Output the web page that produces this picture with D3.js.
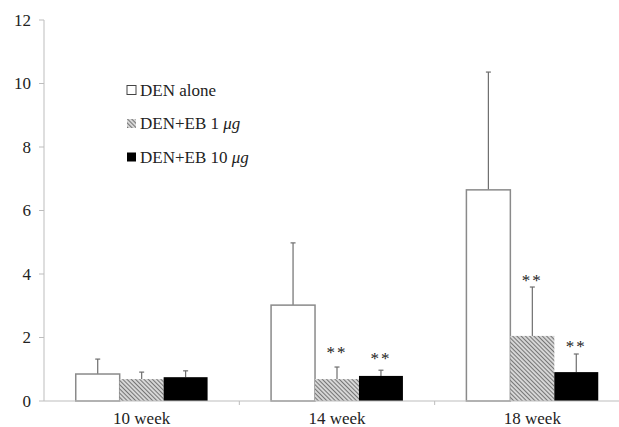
<!DOCTYPE html>
<html>
<head>
<meta charset="utf-8">
<script src="https://cdn.jsdelivr.net/npm/d3@7"></script>
<style>
  body { margin: 0; background: #fff; }
  svg { display: block; }
</style>
</head>
<body>
<svg id="chart" width="619" height="427"></svg>
<script>
// data
const weeks = ['10 week', '14 week', '18 week'];
const groups = ['DEN alone', 'DEN+EB 1', 'DEN+EB 10'];
const means = [
    [0.85, 0.69, 0.75],
    [3.02, 0.69, 0.79],
    [6.65, 2.05, 0.91],
];
const errors = [
    [0.47, 0.22, 0.20],
    [1.96, 0.38, 0.18],
    [3.71, 1.54, 0.57],
];
// significance marks: [week index, group index, label height in chart units]
const stars = [
    [1, 1, 1.64],
    [1, 2, 1.45],
    [2, 1, 3.90],
    [2, 2, 1.83],
];
const yTicks = [0, 2, 4, 6, 8, 10, 12];

const serif = "'Liberation Serif', 'Times New Roman', serif";
const svg = d3.select('#chart');
const axisColor = '#bdbdbd';

const y = d3.scaleLinear().domain([0, 12]).range([401, 20]);
const x = d3.scaleBand().domain(weeks).range([44, 630]);
const groupWidth = x.bandwidth() * 0.675;
const xSub = d3.scaleBand().domain(groups)
    .range([(x.bandwidth() - groupWidth) / 2, (x.bandwidth() + groupWidth) / 2]);

// hatch pattern for the 1 ug group
const defs = svg.append('defs');
const pat = defs.append('pattern')
    .attr('id', 'hatch')
    .attr('patternUnits', 'userSpaceOnUse')
    .attr('width', 3).attr('height', 3)
    .attr('patternTransform', 'rotate(-45)');
pat.append('rect').attr('width', 3).attr('height', 3).attr('fill', '#d6d6d6');
pat.append('line')
    .attr('x1', 0).attr('y1', 0).attr('x2', 0).attr('y2', 3)
    .attr('stroke', '#555').attr('stroke-width', 1.5);

const fills = ['#ffffff', 'url(#hatch)', '#000000'];
const strokes = ['#8a8a8a', 'none', 'none'];

function label(sel, size) {
    return sel.style('font-family', serif)
        .style('font-size', size + 'px')
        .style('fill', '#222');
}

// y axis
svg.append('line')
    .attr('x1', 44).attr('x2', 44)
    .attr('y1', y(12)).attr('y2', y(0))
    .attr('stroke', axisColor).attr('stroke-width', 1);

const yt = svg.append('g').selectAll('g').data(yTicks).enter().append('g');
yt.append('line')
    .attr('x1', 39).attr('x2', 44)
    .attr('y1', d => y(d)).attr('y2', d => y(d))
    .attr('stroke', axisColor);
yt.append('text')
    .attr('x', 31).attr('y', d => y(d))
    .attr('dy', '0.35em')
    .attr('text-anchor', 'end')
    .call(label, 17)
    .text(d => d);

// bars
const wk = svg.append('g').selectAll('g.week')
    .data(weeks).enter().append('g')
    .attr('class', 'week')
    .attr('transform', d => `translate(${x(d)},0)`);

wk.each(function (w, wi) {
    const g = d3.select(this);
    groups.forEach((grp, gi) => {
        const v = means[wi][gi];
        const e = errors[wi][gi];
        const bx = xSub(grp);
        const cx = bx + xSub.bandwidth() / 2;
        // error bar (upper only)
        g.append('line')
            .attr('x1', cx).attr('x2', cx)
            .attr('y1', y(v)).attr('y2', y(v + e))
            .attr('stroke', '#6e6e6e').attr('stroke-width', 1.2);
        g.append('line')
            .attr('x1', cx - 2.5).attr('x2', cx + 2.5)
            .attr('y1', y(v + e)).attr('y2', y(v + e))
            .attr('stroke', '#6e6e6e').attr('stroke-width', 1.2);
        g.append('rect')
            .attr('x', bx).attr('y', y(v))
            .attr('width', xSub.bandwidth())
            .attr('height', y(0) - y(v))
            .attr('fill', fills[gi])
            .attr('stroke', strokes[gi])
            .attr('stroke-width', 1.5);
    });
});

// x axis
svg.append('line')
    .attr('x1', 44).attr('x2', 630)
    .attr('y1', y(0)).attr('y2', y(0))
    .attr('stroke', axisColor).attr('stroke-width', 1.2);

weeks.slice(1).forEach(w => {
    svg.append('line')
        .attr('x1', x(w)).attr('x2', x(w))
        .attr('y1', y(0)).attr('y2', y(0) + 4)
        .attr('stroke', axisColor);
});

svg.append('g').selectAll('text').data(weeks).enter().append('text')
    .attr('x', d => x(d) + x.bandwidth() / 2)
    .attr('y', 424)
    .attr('text-anchor', 'middle')
    .call(label, 17)
    .text(d => d);

// significance stars
svg.append('g').selectAll('text').data(stars).enter().append('text')
    .attr('x', d => x(weeks[d[0]]) + xSub(groups[d[1]]) + xSub.bandwidth() / 2)
    .attr('y', d => y(d[2]) + 9)
    .attr('text-anchor', 'middle')
    .call(label, 17)
    .style('letter-spacing', '2px')
    .text('**');

// legend
const legend = svg.append('g').attr('transform', 'translate(127,90)');
const li = legend.selectAll('g').data(groups).enter().append('g')
    .attr('transform', (d, i) => `translate(0,${i * 33.5})`);
li.append('rect')
    .attr('x', 0).attr('y', -4.5)
    .attr('width', 9).attr('height', 9)
    .attr('fill', (d, i) => fills[i])
    .attr('stroke', (d, i) => i === 0 ? '#444' : 'none')
    .attr('stroke-width', 1);
const lt = li.append('text')
    .attr('x', 13).attr('dy', '0.35em')
    .call(label, 17);
lt.append('tspan').text(d => d);
lt.filter((d, i) => i > 0).append('tspan')
    .style('font-style', 'italic')
    .text(' \u03bcg');
</script>
</body>
</html>
